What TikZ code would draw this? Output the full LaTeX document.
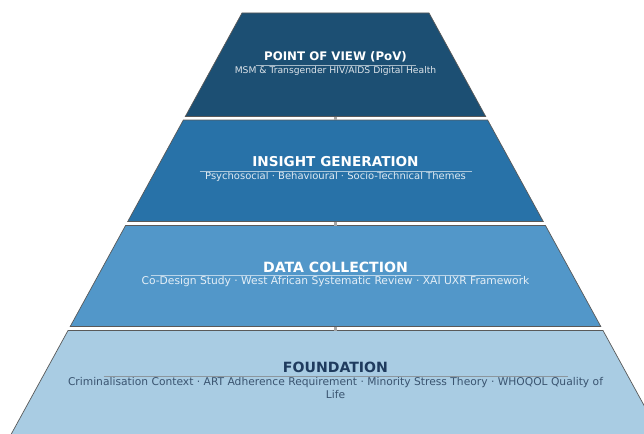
\documentclass[tikz,border=0pt]{standalone}
\usepackage{fontspec}
\setmainfont{DejaVu Sans}
\definecolor{povblue}{HTML}{1C4F73}
\definecolor{insblue}{HTML}{2872A8}
\definecolor{datblue}{HTML}{5297C9}
\definecolor{fndblue}{HTML}{A9CCE3}
\definecolor{fndtext}{HTML}{1F3B5E}
\definecolor{fndsub}{HTML}{3A5470}
\begin{document}
\begin{tikzpicture}[x=1pt,y=-1pt]
\def\cx{335.5}
\def\slope{0.548}
\tikzset{
layer/.style={draw=black!65,line width=0.7pt},
title/.style={font=\fontsize{#1}{16}\selectfont\bfseries},
sub/.style={align=center,inner sep=1pt,font=\fontsize{#1}{13}\selectfont},
rule/.style={line width=0.6pt},
link/.style={draw=gray!70,line width=3pt}}
\clip (0,0) rectangle (644,433);
\foreach \n/\t/\b/\col in {pov/13/116.5/povblue,ins/120/221.5/insblue,dat/225.5/326.5/datblue,fnd/330.5/440/fndblue}{
  \pgfmathsetmacro\wt{93.5+\slope*(\t-13)}
  \pgfmathsetmacro\wb{93.5+\slope*(\b-13)}
  \filldraw[layer,fill=\col] (\cx-\wt,\t) -- (\cx+\wt,\t) -- (\cx+\wb,\b) -- (\cx-\wb,\b) -- cycle;
  \coordinate (\n-t) at (\cx,\t);
  \coordinate (\n-b) at (\cx,\b);
}
\foreach \up/\dn in {pov/ins,ins/dat,dat/fnd} \path[link] (\up-b) -- (\dn-t);
\node[title=11.8,text=white] (povT) at (\cx,57) {POINT OF VIEW (PoV)};
\node[sub=9.2,text=white!85!povblue] (povS) at (\cx,71) {MSM \& Transgender HIV/AIDS Digital Health};
\node[title=13.6,text=white] (insT) at (\cx,162) {INSIGHT GENERATION};
\node[sub=10,text=white!85!insblue] (insS) at (\cx,177) {Psychosocial · Behavioural · Socio-Technical Themes};
\node[title=14.1,text=white] (datT) at (\cx,267) {DATA COLLECTION};
\node[sub=10.7,text=white!85!datblue] (datS) at (\cx,282) {Co-Design Study · West African Systematic Review · XAI UXR Framework};
\node[title=14.1,text=fndtext] (fndT) at (\cx,367) {FOUNDATION};
\node[sub=10.7,text=fndsub] (fndS) at (\cx,388.5) {Criminalisation Context · ART Adherence Requirement · Minority Stress Theory · WHOQOL Quality of\\Life};
% thin rule over each subtitle
\foreach \n/\w/\c in {povS/80/white!60!povblue,insS/136/white!60!insblue,datS/185/white!60!datblue,fndS/232/gray!70!fndblue}
  \draw[rule,\c] ([xshift=-\w pt]\n.north) -- ([xshift=\w pt]\n.north);
\end{tikzpicture}
\end{document}
